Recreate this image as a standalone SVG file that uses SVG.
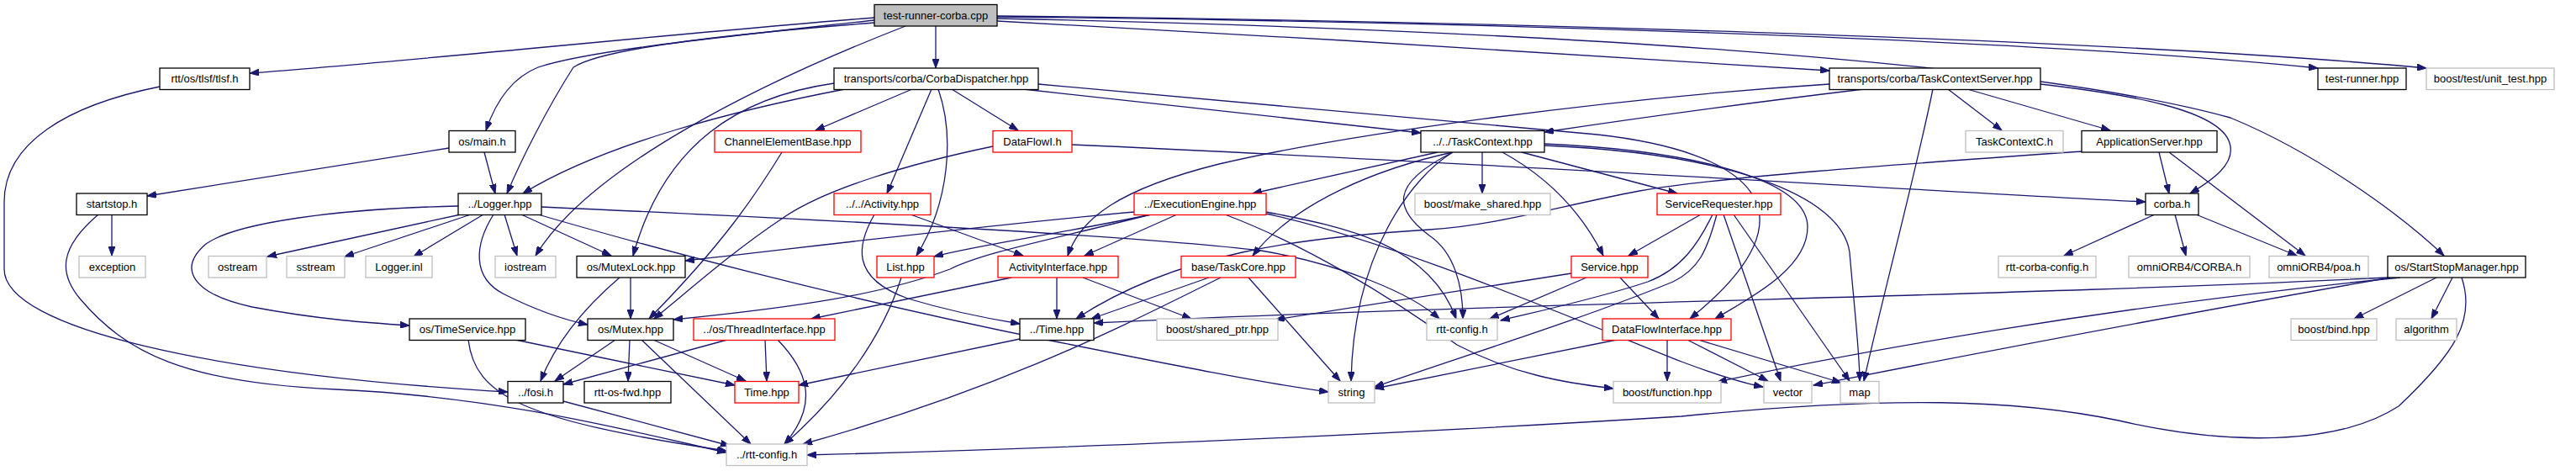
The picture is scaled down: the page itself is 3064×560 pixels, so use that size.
<svg xmlns="http://www.w3.org/2000/svg" width="3064" height="560" viewBox="0 0 3064 560">
<defs>
<style>
.e{fill:none;stroke:#191970;stroke-width:1.3;marker-end:url(#a)}
rect{fill:#fff;stroke:#000;stroke-width:1.3}
.r rect{stroke:#ff0000}
.g rect{stroke:#bfbfbf}
.root rect{fill:#bfbfbf}
text{font-family:"Liberation Sans",Arial,Helvetica,sans-serif;font-size:13px;text-anchor:middle;fill:#000}
</style>
<marker id="a" markerUnits="userSpaceOnUse" markerWidth="12" markerHeight="8" refX="11" refY="4" orient="auto" viewBox="0 0 12 8">
<path d="M0,0 L11,4 L0,8 z" fill="#191970" stroke="#191970" stroke-width="1"/>
</marker>
</defs>
<rect x="0" y="0" width="3064" height="560" style="fill:#fff;stroke:none"/>
<g id="edges">
<path class="e" d="M1040,21 C800,40 520,70 297,87"/>
<path class="e" d="M1040,24 C850,45 700,60 640,80 C610,92 590,120 578,155"/>
<path class="e" d="M1040,27 C900,38 720,55 682,80 C650,130 620,190 603,230"/>
<path class="e" d="M1113,31 L1113,81"/>
<path class="e" d="M1077,31 C900,100 700,200 637,304"/>
<path class="e" d="M1186,25 C1500,42 1900,65 2176,84"/>
<path class="e" d="M1186,20 C1700,25 2400,45 2757,81"/>
<path class="e" d="M1186,19 C1700,24 2500,45 2886,81"/>
<path class="e" d="M1186,22 C1800,35 2400,70 2653,140 C2750,180 2850,250 2907,304"/>
<path class="e" d="M190,103 C80,125 5,170 5,240 L5,320 C5,390 250,445 604,466"/>
<path class="e" d="M534,176 L175,233"/>
<path class="e" d="M576,181 L589,230"/>
<path class="e" d="M1085,106 L970,155"/>
<path class="e" d="M1132,106 L1211,155"/>
<path class="e" d="M1108,106 L1055,230"/>
<path class="e" d="M1116,106 C1135,160 1130,240 1090,304"/>
<path class="e" d="M1005,106 C880,130 720,170 622,230"/>
<path class="e" d="M992,99 C880,115 790,170 753,304"/>
<path class="e" d="M1217,106 C1400,125 1550,142 1690,158"/>
<path class="e" d="M1235,100 L1900,160 C2080,180 2170,250 2010,379"/>
<path class="e" d="M1837,171 C2000,178 2150,210 2150,270 C2150,320 2080,355 2040,379"/>
<path class="e" d="M1837,173 C2050,182 2190,230 2200,300 C2205,360 2212,420 2212,453"/>
<path class="e" d="M1710,181 L1490,230"/>
<path class="e" d="M1728,181 C1640,200 1540,240 1490,304"/>
<path class="e" d="M1728,181 C1680,210 1610,300 1607,453"/>
<path class="e" d="M1728,181 C1650,220 1660,250 1700,280 C1730,300 1740,340 1740,379"/>
<path class="e" d="M1763,181 L1763,230"/>
<path class="e" d="M1787,181 C1840,210 1880,250 1907,304"/>
<path class="e" d="M1810,181 L1995,230"/>
<path class="e" d="M2217,106 C2100,120 1950,140 1837,157"/>
<path class="e" d="M2176,100 C1900,118 1600,160 1450,195 C1330,225 1285,260 1270,304"/>
<path class="e" d="M2317,106 L2381,155"/>
<path class="e" d="M2340,106 L2510,155"/>
<path class="e" d="M2427,100 C2530,112 2640,130 2652,170 C2660,195 2630,215 2605,230"/>
<path class="e" d="M2299,106 C2280,200 2240,350 2217,453"/>
<path class="e" d="M2568,181 L2580,230"/>
<path class="e" d="M2580,181 L2742,304"/>
<path class="e" d="M2476,180 C2250,196 2050,210 1950,227 C1850,246 1780,268 1700,273 C1550,282 1400,300 1280,379"/>
<path class="e" d="M2563,255 L2455,304"/>
<path class="e" d="M2587,255 L2600,304"/>
<path class="e" d="M2612,255 L2732,304"/>
<path class="e" d="M1181,174 C1080,195 980,225 930,260 C870,300 820,345 778,379"/>
<path class="e" d="M1275,172 C1800,195 2300,228 2552,240"/>
<path class="e" d="M930,181 C900,230 860,290 772,379"/>
<path class="e" d="M133,255 L133,304"/>
<path class="e" d="M117,255 C70,295 70,325 95,355 C150,420 220,455 400,463 C600,472 760,515 864,538"/>
<path class="e" d="M545,245 C400,248 280,265 245,290 C210,320 230,350 300,365 C380,380 440,384 487,387"/>
<path class="e" d="M548,255 L318,305"/>
<path class="e" d="M560,255 L410,305"/>
<path class="e" d="M575,255 L492,305"/>
<path class="e" d="M587,255 C565,290 560,330 600,350 C640,370 670,380 699,386"/>
<path class="e" d="M600,255 L615,304"/>
<path class="e" d="M620,255 L727,304"/>
<path class="e" d="M640,255 C760,290 1000,355 1250,405 C1400,435 1500,455 1580,466"/>
<path class="e" d="M644,246 C1000,262 1350,280 1500,298 C1600,315 1680,350 1712,379"/>
<path class="e" d="M750,330 L750,379"/>
<path class="e" d="M737,330 C690,370 660,410 643,453"/>
<path class="e" d="M732,404 L660,453"/>
<path class="e" d="M749,404 L747,453"/>
<path class="e" d="M777,404 L887,453"/>
<path class="e" d="M763,404 L893,528"/>
<path class="e" d="M613,404 L874,458"/>
<path class="e" d="M557,404 C565,470 620,500 864,536"/>
<path class="e" d="M865,404 L670,457"/>
<path class="e" d="M910,404 L912,453"/>
<path class="e" d="M925,404 C960,440 975,480 933,528"/>
<path class="e" d="M670,477 L868,530"/>
<path class="e" d="M1213,403 L950,458"/>
<path class="e" d="M1072,330 C1050,400 1000,470 933,528"/>
<path class="e" d="M1452,330 C1350,380 1200,460 955,528"/>
<path class="e" d="M2928,330 C2945,380 2920,420 2853,483 C2780,530 2650,530 2520,500 C2400,475 2250,470 2000,495 C1600,520 1200,535 960,541"/>
<path class="e" d="M2840,330 C2400,352 1800,360 1301,384"/>
<path class="e" d="M2855,330 C2500,365 2200,420 2043,454"/>
<path class="e" d="M2843,330 C2500,390 2250,440 2157,458"/>
<path class="e" d="M2898,330 L2800,379"/>
<path class="e" d="M2917,330 L2892,379"/>
<path class="e" d="M1083,255 L1217,304"/>
<path class="e" d="M1040,255 C1020,290 1010,330 1080,355 C1130,370 1170,378 1213,385"/>
<path class="e" d="M1349,252 C1150,270 950,295 815,310"/>
<path class="e" d="M1369,255 C1250,280 1170,290 1111,305"/>
<path class="e" d="M1369,255 C1250,285 1170,300 1130,320 C1050,350 950,365 801,380"/>
<path class="e" d="M1400,255 L1290,304"/>
<path class="e" d="M1506,252 C1600,270 1700,290 1732,379"/>
<path class="e" d="M1506,254 C1650,285 1850,370 2000,430 C2040,445 2070,455 2097,460"/>
<path class="e" d="M1457,255 C1550,290 1650,350 1733,410 C1800,445 1860,455 1919,462"/>
<path class="e" d="M1257,330 L1257,379"/>
<path class="e" d="M1288,330 L1417,379"/>
<path class="e" d="M1203,330 L965,379"/>
<path class="e" d="M1438,330 L1298,379"/>
<path class="e" d="M1485,330 L1594,453"/>
<path class="e" d="M1869,325 L1517,380"/>
<path class="e" d="M1887,330 L1772,379"/>
<path class="e" d="M1927,330 L1973,379"/>
<path class="e" d="M2023,255 L1937,304"/>
<path class="e" d="M2037,255 C2020,290 2000,320 1960,335 C1900,355 1830,370 1785,381"/>
<path class="e" d="M2042,255 C2030,300 2020,320 1990,335 C1880,380 1750,420 1635,460"/>
<path class="e" d="M2050,255 L2118,453"/>
<path class="e" d="M2062,255 L2200,453"/>
<path class="e" d="M1923,404 L1635,462"/>
<path class="e" d="M1983,404 L1983,453"/>
<path class="e" d="M2007,404 L2103,453"/>
<path class="e" d="M2020,404 L2190,455"/>
</g>
<g id="n-root" class="root"><rect x="1040" y="5.5" width="146" height="25.5"/><text x="1113" y="22.5">test-runner-corba.cpp</text></g>
<g id="n-tlsf"><rect x="190" y="81" width="107" height="25.5"/><text x="243.5" y="98">rtt/os/tlsf/tlsf.h</text></g>
<g id="n-corbadispatcher"><rect x="992" y="81" width="243" height="25.5"/><text x="1113.5" y="98">transports/corba/CorbaDispatcher.hpp</text></g>
<g id="n-taskcontextserver"><rect x="2176" y="81" width="251" height="25.5"/><text x="2301.5" y="98">transports/corba/TaskContextServer.hpp</text></g>
<g id="n-testrunner"><rect x="2757" y="81" width="105" height="25.5"/><text x="2809.5" y="98">test-runner.hpp</text></g>
<g id="n-unittest" class="g"><rect x="2886" y="81" width="152" height="25.5"/><text x="2962" y="98">boost/test/unit_test.hpp</text></g>
<g id="n-main"><rect x="534" y="155.5" width="79" height="25.5"/><text x="573.5" y="172.5">os/main.h</text></g>
<g id="n-channelelementbase" class="r"><rect x="850" y="155.5" width="174" height="25.5"/><text x="937" y="172.5">ChannelElementBase.hpp</text></g>
<g id="n-dataflowi" class="r"><rect x="1181" y="155.5" width="94" height="25.5"/><text x="1228" y="172.5">DataFlowI.h</text></g>
<g id="n-taskcontext"><rect x="1690" y="155.5" width="147" height="25.5"/><text x="1763.5" y="172.5">../../TaskContext.hpp</text></g>
<g id="n-taskcontextc" class="g"><rect x="2338" y="155.5" width="116" height="25.5"/><text x="2396" y="172.5">TaskContextC.h</text></g>
<g id="n-applicationserver"><rect x="2476" y="155.5" width="161" height="25.5"/><text x="2556.5" y="172.5">ApplicationServer.hpp</text></g>
<g id="n-startstop"><rect x="91" y="230" width="84" height="25.5"/><text x="133" y="247">startstop.h</text></g>
<g id="n-logger"><rect x="545" y="230" width="99" height="25.5"/><text x="594.5" y="247">../Logger.hpp</text></g>
<g id="n-activity" class="r"><rect x="992" y="230" width="115" height="25.5"/><text x="1049.5" y="247">../../Activity.hpp</text></g>
<g id="n-executionengine" class="r"><rect x="1349" y="230" width="157" height="25.5"/><text x="1427.5" y="247">../ExecutionEngine.hpp</text></g>
<g id="n-makeshared" class="g"><rect x="1683" y="230" width="161" height="25.5"/><text x="1763.5" y="247">boost/make_shared.hpp</text></g>
<g id="n-servicerequester" class="r"><rect x="1971" y="230" width="147" height="25.5"/><text x="2044.5" y="247">ServiceRequester.hpp</text></g>
<g id="n-corba"><rect x="2552" y="230" width="63" height="25.5"/><text x="2583.5" y="247">corba.h</text></g>
<g id="n-exception" class="g"><rect x="94" y="304.5" width="79" height="25.5"/><text x="133.5" y="321.5">exception</text></g>
<g id="n-ostream" class="g"><rect x="248" y="304.5" width="69" height="25.5"/><text x="282.5" y="321.5">ostream</text></g>
<g id="n-sstream" class="g"><rect x="341" y="304.5" width="69" height="25.5"/><text x="375.5" y="321.5">sstream</text></g>
<g id="n-loggerinl" class="g"><rect x="435" y="304.5" width="79" height="25.5"/><text x="474.5" y="321.5">Logger.inl</text></g>
<g id="n-iostream" class="g"><rect x="589" y="304.5" width="72" height="25.5"/><text x="625" y="321.5">iostream</text></g>
<g id="n-mutexlock"><rect x="686" y="304.5" width="129" height="25.5"/><text x="750.5" y="321.5">os/MutexLock.hpp</text></g>
<g id="n-list" class="r"><rect x="1043" y="304.5" width="68" height="25.5"/><text x="1077" y="321.5">List.hpp</text></g>
<g id="n-activityinterface" class="r"><rect x="1187" y="304.5" width="143" height="25.5"/><text x="1258.5" y="321.5">ActivityInterface.hpp</text></g>
<g id="n-taskcore" class="r"><rect x="1405" y="304.5" width="136" height="25.5"/><text x="1473" y="321.5">base/TaskCore.hpp</text></g>
<g id="n-service" class="r"><rect x="1869" y="304.5" width="91" height="25.5"/><text x="1914.5" y="321.5">Service.hpp</text></g>
<g id="n-rttcorbaconfig" class="g"><rect x="2377" y="304.5" width="116" height="25.5"/><text x="2435" y="321.5">rtt-corba-config.h</text></g>
<g id="n-omnicorba" class="g"><rect x="2532" y="304.5" width="144" height="25.5"/><text x="2604" y="321.5">omniORB4/CORBA.h</text></g>
<g id="n-omnipoa" class="g"><rect x="2699" y="304.5" width="118" height="25.5"/><text x="2758" y="321.5">omniORB4/poa.h</text></g>
<g id="n-startstopmanager"><rect x="2840" y="304.5" width="164" height="25.5"/><text x="2922" y="321.5">os/StartStopManager.hpp</text></g>
<g id="n-timeservice"><rect x="487" y="379" width="138" height="25.5"/><text x="556" y="396">os/TimeService.hpp</text></g>
<g id="n-mutex"><rect x="699" y="379" width="102" height="25.5"/><text x="750" y="396">os/Mutex.hpp</text></g>
<g id="n-threadinterface" class="r"><rect x="825" y="379" width="168" height="25.5"/><text x="909" y="396">../os/ThreadInterface.hpp</text></g>
<g id="n-time-up"><rect x="1213" y="379" width="88" height="25.5"/><text x="1257" y="396">../Time.hpp</text></g>
<g id="n-sharedptr" class="g"><rect x="1376" y="379" width="144" height="25.5"/><text x="1448" y="396">boost/shared_ptr.hpp</text></g>
<g id="n-rttconfig" class="g"><rect x="1697" y="379" width="84" height="25.5"/><text x="1739" y="396">rtt-config.h</text></g>
<g id="n-dataflowinterface" class="r"><rect x="1906" y="379" width="153" height="25.5"/><text x="1982.5" y="396">DataFlowInterface.hpp</text></g>
<g id="n-bind" class="g"><rect x="2725" y="379" width="102" height="25.5"/><text x="2776" y="396">boost/bind.hpp</text></g>
<g id="n-algorithm" class="g"><rect x="2850" y="379" width="72" height="25.5"/><text x="2886" y="396">algorithm</text></g>
<g id="n-fosi"><rect x="604" y="453.5" width="66" height="25.5"/><text x="637" y="470.5">../fosi.h</text></g>
<g id="n-rttosfwd"><rect x="695" y="453.5" width="103" height="25.5"/><text x="746.5" y="470.5">rtt-os-fwd.hpp</text></g>
<g id="n-time" class="r"><rect x="874" y="453.5" width="76" height="25.5"/><text x="912" y="470.5">Time.hpp</text></g>
<g id="n-string" class="g"><rect x="1580" y="453.5" width="55" height="25.5"/><text x="1607.5" y="470.5">string</text></g>
<g id="n-function" class="g"><rect x="1919" y="453.5" width="128" height="25.5"/><text x="1983" y="470.5">boost/function.hpp</text></g>
<g id="n-vector" class="g"><rect x="2098" y="453.5" width="57" height="25.5"/><text x="2126.5" y="470.5">vector</text></g>
<g id="n-map" class="g"><rect x="2189" y="453.5" width="46" height="25.5"/><text x="2212" y="470.5">map</text></g>
<g id="n-rttconfig-up" class="g"><rect x="864" y="528" width="96" height="25.5"/><text x="912" y="545">../rtt-config.h</text></g>
</svg>
